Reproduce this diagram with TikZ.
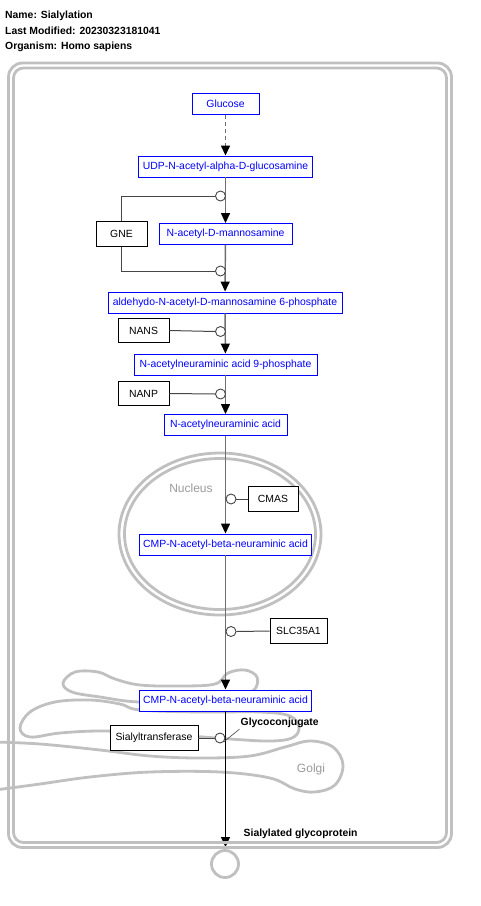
\documentclass[tikz,border=0pt]{standalone}
\usepackage{fontspec}
\setmainfont{Liberation Sans}
\usetikzlibrary{arrows.meta}
\definecolor{metab}{RGB}{0,0,255}
\definecolor{wall}{RGB}{192,192,192}
\definecolor{rxn}{RGB}{110,110,110}
\definecolor{enz}{RGB}{70,70,70}
\tikzset{
  every node/.style={font=\fontsize{10.4}{12}\selectfont},
  metabox/.style={draw=metab, text=metab, line width=0.9pt, fill=white,
    minimum height=21pt, inner xsep=4pt, inner ysep=0pt},
  genebox/.style={draw=black, text=black, line width=0.9pt, fill=white,
    minimum height=24.5pt, inner xsep=4pt, inner ysep=0pt},
  catal/.style={circle, draw=enz, fill=white, line width=0.9pt,
    minimum size=10pt, inner sep=0pt},
  tipblack/.tip={Triangle[length=10pt,width=9pt,color=black]},
  rxnline/.style={draw=rxn, line width=1.4pt, -tipblack},
  enzline/.style={draw=enz, line width=1pt},
  membrane/.style={draw=wall, line width=2.8pt},
  comptlabel/.style={text=wall!80!black, font=\fontsize{12}{14}\selectfont},
  boldlabel/.style={font=\fontsize{10.4}{12}\selectfont\bfseries, inner sep=1pt},
}
\begin{document}
\begin{tikzpicture}[x=1pt, y=-1pt]
\useasboundingbox (0,0) rectangle (480,906);

% pathway header
\node[anchor=west, boldlabel] (hname) at (4,16) {Name: Sialylation};
\node[anchor=west, boldlabel] (hdate) at (4,31) {Last Modified: 20230323181041};
\node[anchor=west, boldlabel] (horg) at (4,47) {Organism: Homo sapiens};

% nucleus membrane
\draw[membrane] (220,534) ellipse [x radius=101, y radius=81];
\draw[membrane] (220,534) ellipse [x radius=95.5, y radius=75.5];
\node[comptlabel] (nucl) at (191,488) {Nucleus};

% golgi cisternae
\draw[membrane] plot[smooth cycle, tension=0.6] coordinates {
  (63,683) (75,672) (98,672) (115,679) (140,685) (180,686) (215,684)
  (228,673) (245,670) (257,677) (254,690) (235,697) (200,700)
  (140,702) (100,697) (72,692)};
\draw[membrane] plot[smooth cycle, tension=0.6] coordinates {
  (20,728) (30,712) (55,702) (90,700) (120,704) (140,710) (200,712)
  (260,712) (290,716) (299,728) (292,738) (270,741) (230,739)
  (150,733) (100,731) (60,733) (30,737)};
\draw[membrane] plot[smooth, tension=0.6] coordinates {
  (-5,742) (40,744) (100,750) (150,756) (200,758) (250,756) (285,747)
  (310,741) (333,747) (343,765) (335,785) (315,792) (295,789)
  (270,778) (220,772) (150,772) (90,777) (40,784) (-5,790)};
\node[comptlabel] (golgi) at (311,769) {Golgi};

% metabolites
\node[metabox, minimum width=67pt]  (glc)   at (225.5,104)   {Glucose};
\node[metabox, minimum width=173pt] (udp)   at (225.5,166.5) {UDP-N-acetyl-alpha-D-glucosamine};
\node[metabox, minimum width=133pt] (manac) at (225.5,234)   {N-acetyl-D-mannosamine};
\node[metabox, minimum width=234pt] (man6p) at (225,302.5)   {aldehydo-N-acetyl-D-mannosamine 6-phosphate};
\node[metabox, minimum width=183pt] (neu9p) at (225.5,364.5) {N-acetylneuraminic acid 9-phosphate};
\node[metabox, minimum width=123pt] (neuac) at (225.5,425)   {N-acetylneuraminic acid};
\node[metabox, minimum width=169pt] (cmpn)  at (225.5,544.5) {CMP-N-acetyl-beta-neuraminic acid};
\node[metabox, minimum width=171pt] (cmpg)  at (225.5,700.5) {CMP-N-acetyl-beta-neuraminic acid};
\coordinate (sgp) at (225.5,847);

% genes
\node[genebox, minimum width=51pt] (gne)  at (121.5,234)   {GNE};
\node[genebox, minimum width=51pt] (nans) at (143.5,330.5) {NANS};
\node[genebox, minimum width=51pt] (nanp) at (143.5,393.5) {NANP};
\node[genebox, minimum width=50pt] (cmas) at (273,499)     {CMAS};
\node[genebox, minimum width=57pt] (slc)  at (298.5,631)   {SLC35A1};
\node[genebox, minimum width=88pt] (siat) at (154,738)     {Sialyltransferase};

% reactions
\draw[rxnline, dash pattern=on 4pt off 3pt] (glc) -- (udp);
\draw[rxnline] (udp) -- (manac);
\draw[rxnline] (manac) -- (man6p);
\draw[rxnline] (man6p) -- (neu9p);
\draw[rxnline] (neu9p) -- (neuac);
\draw[rxnline] (neuac) -- (cmpn);
\draw[rxnline] (cmpn) -- (cmpg);
\draw[draw=black, line width=1pt, -tipblack] (cmpg) -- (sgp);

% catalysis anchors
\node[catal] (c1) at (220.5,196) {};
\node[catal] (c2) at (220.5,271) {};
\node[catal] (c3) at (220.5,331.5) {};
\node[catal] (c4) at (220.5,394) {};
\node[catal] (c5) at (231,499) {};
\node[catal] (c6) at (231,631.5) {};
\node[catal] (c7) at (220,738) {};

\draw[enzline] (gne.north) |- (c1.west);
\draw[enzline] (gne.south) |- (c2.west);
\draw[enzline] (nans.east) -- (c3.west);
\draw[enzline] (nanp.east) -- (c4.west);
\draw[enzline] (cmas.west) -- (c5.east);
\draw[enzline] (slc.west) -- (c6.east);
\draw[enzline] (siat.east) -- (c7.west);

% products and conjugates
\node[boldlabel, anchor=west] (glyco) at (239.5,723) {Glycoconjugate};
\draw[draw=enz, line width=0.6pt] (c7.south east) -- (glyco.south west);
\node[boldlabel, anchor=west] (sgpl) at (242.5,834) {Sialylated glycoprotein};

% cell membrane
\draw[membrane] (8.5,63) [rounded corners=14pt] rectangle (451.5,847.5);
\draw[membrane] (13.5,68) [rounded corners=10pt] rectangle (446.5,842.5);

% extracellular node
\node[circle, draw=wall, line width=2.8pt, minimum size=27pt, inner sep=0pt] (exo) at (225,864) {};
\end{tikzpicture}
\end{document}
